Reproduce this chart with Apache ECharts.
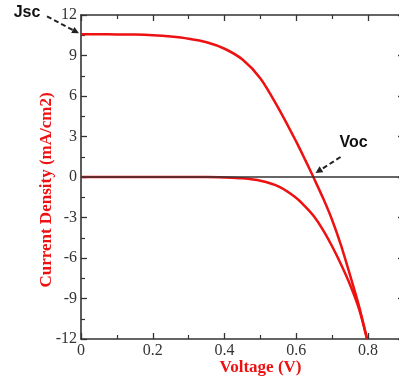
<!DOCTYPE html>
<html><head><meta charset="utf-8">
<script src="https://cdn.jsdelivr.net/npm/echarts@6/dist/echarts.min.js"></script>
<style>html,body{margin:0;padding:0;background:#fff}#c{width:399px;height:379px}</style>
</head><body><div id="c"></div>
<script>
// Voltage (V) and current density (mA/cm2)
const voltLight = [0, 0.05, 0.1, 0.15, 0.2, 0.25, 0.3, 0.35, 0.4, 0.45, 0.5, 0.55, 0.6, 0.625, 0.65, 0.675, 0.7, 0.725, 0.75, 0.775, 0.797];
const currLight = [10.57, 10.57, 10.56, 10.55, 10.5, 10.4, 10.24, 9.98, 9.5, 8.7, 7.3, 5.1, 2.6, 1.25, -0.15, -1.6, -3.2, -5.1, -7.3, -9.6, -12];
const voltDark = [0, 0.1, 0.2, 0.3, 0.35, 0.4, 0.45, 0.5, 0.55, 0.6, 0.625, 0.65, 0.675, 0.7, 0.725, 0.75, 0.775, 0.797];
const currDark = [0, 0, 0, 0, 0, -0.03, -0.1, -0.28, -0.7, -1.55, -2.2, -2.95, -3.95, -5.15, -6.5, -8.0, -9.8, -12];
const xTicks = [0, 0.2, 0.4, 0.6, 0.8];
const yTicks = [-12, -9, -6, -3, 0, 3, 6, 9, 12];
const jsc = [0, 10.57];
const voc = [0.648, 0];

const zip = (a, b) => a.map((v, i) => [v, b[i]]);
const chart = echarts.init(document.getElementById('c'));
const serif = '"Liberation Serif","DejaVu Serif",serif';
const axCol = '#333';
const red = '#ee1111';
const baseAxis = {
  axisLine: {show: true, onZero: false, lineStyle: {color: axCol, width: 1.6}},
  axisTick: {show: true, inside: true, length: 6, lineStyle: {color: axCol, width: 1.3}},
  minorTick: {show: true, splitNumber: 2, length: 4, lineStyle: {color: axCol, width: 1.2}},
  splitLine: {show: false}
};
chart.setOption({
  animation: false,
  grid: {left: 81, top: 15, right: -5, bottom: 40, containLabel: false, outerBoundsMode: 'none'},
  xAxis: [
    Object.assign({}, baseAxis, {
      type: 'value', min: 0, max: 0.9, interval: 0.2, position: 'bottom',
      name: 'Voltage (V)', nameLocation: 'middle', nameGap: 20, nameMoveOverlap: false,
      nameTextStyle: {fontFamily: serif, fontWeight: 'bold', fontSize: 17, color: red, padding: [0, 0, 0, 36]},
      axisLabel: {fontFamily: serif, fontSize: 16, color: '#333', margin: 4, showMaxLabel: false,
        formatter: v => xTicks.includes(Math.round(v * 10) / 10) ? String(Math.round(v * 10) / 10) : ''}
    }),
    Object.assign({}, baseAxis, {
      type: 'value', min: 0, max: 0.9, interval: 0.2, position: 'top', axisLabel: {show: false}
    })
  ],
  yAxis: [
    Object.assign({}, baseAxis, {
      type: 'value', min: -12, max: 12, interval: 3, position: 'left',
      name: 'Current Density (mA/cm2)', nameLocation: 'middle', nameGap: 26, nameMoveOverlap: false,
      nameTextStyle: {fontFamily: serif, fontWeight: 'bold', fontSize: 17, color: red, padding: [0, 26, 0, 0]},
      axisLabel: {fontFamily: serif, fontSize: 16, color: '#333', margin: 4,
        formatter: v => yTicks.includes(v) ? String(v) : ''}
    }),
    Object.assign({}, baseAxis, {
      type: 'value', min: -12, max: 12, interval: 3, position: 'right', axisLabel: {show: false}
    })
  ],
  series: [
    {type: 'line', data: zip(voltLight, currLight), showSymbol: false, smooth: 0.3,
      lineStyle: {color: red, width: 2.5}, z: 3,
      markLine: {silent: true, symbol: 'none', label: {show: false},
        lineStyle: {color: '#333', width: 1.6, type: 'solid'}, data: [{yAxis: 0}]}},
    {type: 'line', data: zip(voltDark, currDark), showSymbol: false, smooth: 0.3,
      lineStyle: {color: red, width: 2.5}, z: 3}
  ]
});

function arrow(from, to) {
  const dx = to[0] - from[0], dy = to[1] - from[1];
  const L = Math.hypot(dx, dy), ux = dx / L, uy = dy / L;
  const base = [to[0] - ux * 7, to[1] - uy * 7];
  return [
    {type: 'line', shape: {x1: from[0], y1: from[1], x2: base[0], y2: base[1]},
      style: {stroke: '#222', lineWidth: 2, lineDash: [5, 3]}},
    {type: 'polygon', shape: {points: [to, [base[0] - uy * 3.5, base[1] + ux * 3.5], [base[0] + uy * 3.5, base[1] - ux * 3.5]]},
      style: {fill: '#222'}}
  ];
}
const pj = chart.convertToPixel({gridIndex: 0}, jsc);
const pv = chart.convertToPixel({gridIndex: 0}, voc);
const sans = '"Liberation Sans",Arial,sans-serif';
chart.setOption({graphic: [
  {type: 'text', x: pj[0] - 54, y: pj[1] - 22, style: {text: 'Jsc', font: 'bold 16px ' + sans, fill: '#111', textAlign: 'center', textVerticalAlign: 'middle'}},
  ...arrow([pj[0] - 34, pj[1] - 18], [pj[0] - 2, pj[1] - 1]),
  {type: 'text', x: pv[0] + 40, y: pv[1] - 34, style: {text: 'Voc', font: 'bold 16px ' + sans, fill: '#111', textAlign: 'center', textVerticalAlign: 'middle'}},
  ...arrow([pv[0] + 27, pv[1] - 20], [pv[0] + 2, pv[1] - 4])
]});
</script></body></html>
